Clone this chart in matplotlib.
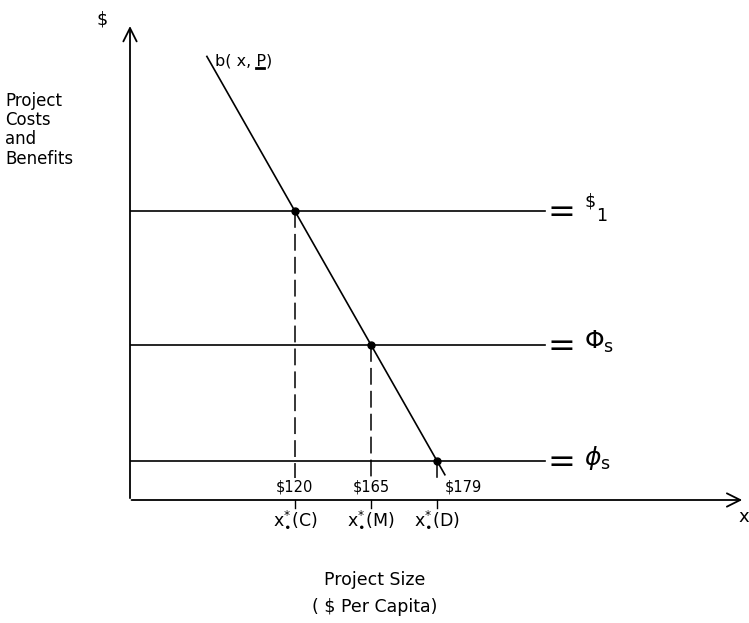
import numpy as np
import matplotlib.pyplot as plt

# diagram units: both axes run 0..100
cost_levels = [61.2, 32.8, 8.3]          # $1, Phi_s, phi_s
cost_names = [r'$^{\$}{}_{1}$', r'$\Phi_{\mathrm{s}}$', r'$\phi_{\mathrm{s}}$']
size_labels = ['$120', '$165', '$179']
regimes = ['C', 'M', 'D']

# benefit curve b(x, P) = b0 - slope * x
b0 = 122.6
slope = 2.29
b_range = [12.5, 51.2]

plt.rcParams['font.family'] = ['DejaVu Sans']
plt.rcParams['mathtext.fontset'] = 'dejavusans'

fig = plt.figure(figsize=(7.49, 6.23), dpi=100)
fig.patch.set_facecolor('white')
ax = fig.add_axes([130 / 749, 123 / 623, 615 / 749, 472 / 623])
ax.set_xlim(0, 100)
ax.set_ylim(0, 100)
ax.axis('off')

# axes with open arrow heads
ax.annotate('', xy=(0, 101), xytext=(0, -0.2),
            arrowprops=dict(arrowstyle='->', lw=1.3, color='black',
                            mutation_scale=24), annotation_clip=False)
ax.annotate('', xy=(100, 0), xytext=(-0.2, 0),
            arrowprops=dict(arrowstyle='->', lw=1.3, color='black',
                            mutation_scale=24), annotation_clip=False)

# benefit line
bx = np.array(b_range)
ax.plot(bx, b0 - slope * bx, color='black', lw=1.2, clip_on=False)
btxt = ax.text(13.8, 93.0, 'b( x, P)', fontsize=11.5, va='center', ha='left')

# underline under the P
fig.canvas.draw()
bb = btxt.get_window_extent()
inv = ax.transData.inverted()
x0, y0 = inv.transform((bb.x0, bb.y0))
x1, _ = inv.transform((bb.x1, bb.y0))
w = x1 - x0
ax.plot([x0 + w * 0.72, x0 + w * 0.86], [y0 + 0.1, y0 + 0.1],
        color='black', lw=2.0)

# cost levels
for lvl, name in zip(cost_levels, cost_names):
    ax.plot([0, 67.5], [lvl, lvl], color='black', lw=1.2)
    ax.text(67.9, lvl - 0.3, '=', fontsize=24, va='center', ha='left')
    ax.text(73.8, lvl + 0.6, name, fontsize=18, va='center', ha='left')

# intersections, drop lines and labels
for i, (lvl, lab, reg) in enumerate(zip(cost_levels, size_labels, regimes)):
    xi = (b0 - lvl) / slope
    ax.plot(xi, lvl, 'o', color='black', ms=5)
    ax.plot([xi, xi], [lvl, 4.7], color='black', lw=1.1, dashes=(11, 4))
    ax.plot([xi, xi], [0, -1.7], color='black', lw=1.0, clip_on=False)
    if i == len(cost_levels) - 1:
        ax.text(xi + 1.3, 2.7, lab, fontsize=10.5, va='center', ha='left')
    else:
        ax.text(xi, 2.7, lab, fontsize=10.5, va='center', ha='center')
    ax.text(xi, -4.1, r'$\mathregular{x}^{*}_{\bullet}$' + '(' + reg + ')',
            fontsize=12.5, va='center', ha='center')

# axis labels
ax.text(-4.6, 101.8, '$', fontsize=12.5, va='center', ha='center')
ax.text(-20.3, 86.4, 'Project\nCosts\nand\nBenefits', fontsize=12,
        va='top', ha='left', linespacing=1.08)
ax.text(100.6, -3.6, 'x', fontsize=13, va='center', ha='right')
ax.text(39.8, -16.9, 'Project Size', fontsize=12.5, va='center', ha='center')
ax.text(39.8, -22.7, '( $ Per Capita)', fontsize=12.5, va='center', ha='center')

fig.savefig('out.png', dpi=100)
